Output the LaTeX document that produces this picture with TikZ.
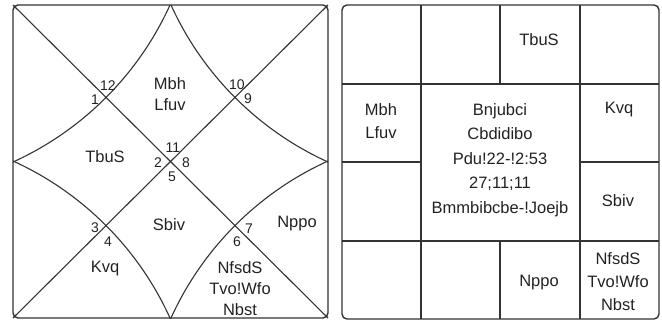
\documentclass[tikz,border=0pt]{standalone}
\usepackage{fontspec}
\setmainfont{Liberation Sans}
\definecolor{linec}{HTML}{333333}
\definecolor{txtc}{HTML}{222222}
\begin{document}
\begin{tikzpicture}[x=1pt,y=-1pt,
  frame/.style={draw=linec, line width=1.4pt, rounded corners=5pt},
  rule/.style={draw=linec, line width=1.1pt},
  planet/.style={font=\fontsize{16.5}{21}\selectfont, text=txtc, align=center, inner sep=0pt},
  planetb/.style={font=\fontsize{16.5}{23}\selectfont, text=txtc, align=center, inner sep=0pt},
  info/.style={font=\fontsize{16.5}{24.5}\selectfont, text=txtc, align=center, inner sep=0pt},
  num/.style={font=\fontsize{14}{15}\selectfont, text=txtc, inner sep=0pt}]
\useasboundingbox (0,0) rectangle (662,322);

% ---------- left (North Indian) chart ----------
\coordinate (A1) at (13,5);
\coordinate (A2) at (328,5);
\coordinate (A3) at (328,318);
\coordinate (A4) at (13,318);
\begin{scope}
  \clip (A1) rectangle (A3);
  \draw[rule] (-117,-125) circle[radius=315pt];
  \draw[rule] (458,-125) circle[radius=315pt];
  \draw[rule] (-117,448) circle[radius=315pt];
  \draw[rule] (458,448) circle[radius=315pt];
\end{scope}
\draw[rule] (A1) -- (A3);
\draw[rule] (A2) -- (A4);
\draw[frame] (A1) rectangle (A3);

\node[num] (n12) at (108,86) {12};
\node[num] (n1) at (95,100) {1};
\node[num] (n10) at (237,85) {10};
\node[num] (n9) at (248,99) {9};
\node[num] (n11) at (173,148) {11};
\node[num] (n2) at (158,163) {2};
\node[num] (n8) at (186,163) {8};
\node[num] (n5) at (172,177) {5};
\node[num] (n3) at (95,228) {3};
\node[num] (n4) at (108,242) {4};
\node[num] (n7) at (249,229) {7};
\node[num] (n6) at (237,242) {6};

\node[planet] (lh1) at (170,94.5) {Mbh\\Lfuv};
\node[planet] (lh2) at (105,157) {TbuS};
\node[planet] (lh5) at (169,225) {Sbiv};
\node[planet] (lh7) at (297,224) {Nppo};
\node[planet] (lh4) at (105,269) {Kvq};
\node[planet] (lh6) at (240,289) {NfsdS\\Tvo!Wfo\\Nbst};

% ---------- right (South Indian) chart ----------
\coordinate (B1) at (342,5);
\coordinate (B3) at (659,319);
\coordinate (v1t) at (421,5);   \coordinate (v1b) at (421,319);
\coordinate (v3t) at (580,5);   \coordinate (v3b) at (580,319);
\coordinate (v2t) at (500,5);   \coordinate (v2m) at (500,84);
\coordinate (v2n) at (500,241); \coordinate (v2b) at (500,319);
\coordinate (h1l) at (342,84);  \coordinate (h1r) at (659,84);
\coordinate (h3l) at (342,241); \coordinate (h3r) at (659,241);
\coordinate (h2a) at (342,162); \coordinate (h2b) at (421,162);
\coordinate (h2c) at (580,162); \coordinate (h2d) at (659,162);
\draw[rule] (v1t) -- (v1b);
\draw[rule] (v3t) -- (v3b);
\draw[rule] (v2t) -- (v2m);
\draw[rule] (v2n) -- (v2b);
\draw[rule] (h1l) -- (h1r);
\draw[rule] (h3l) -- (h3r);
\draw[rule] (h2a) -- (h2b);
\draw[rule] (h2c) -- (h2d);
\draw[frame] (B1) rectangle (B3);

\node[planet] (rs1) at (539,40) {TbuS};
\node[planetb] (rs2) at (381,121) {Mbh\\Lfuv};
\node[planet] (rs3) at (619,110) {Kvq};
\node[planet] (rs4) at (618,201) {Sbiv};
\node[planet] (rs5) at (539,283) {Nppo};
\node[planetb] (rs6) at (618,282) {NfsdS\\Tvo!Wfo\\Nbst};
\node[info] (ctr) at (500,160) {Bnjubci\\Cbdidibo\\Pdu!22-!2:53\\27;11;11\\Bmmbibcbe-!Joejb};
\end{tikzpicture}
\end{document}
